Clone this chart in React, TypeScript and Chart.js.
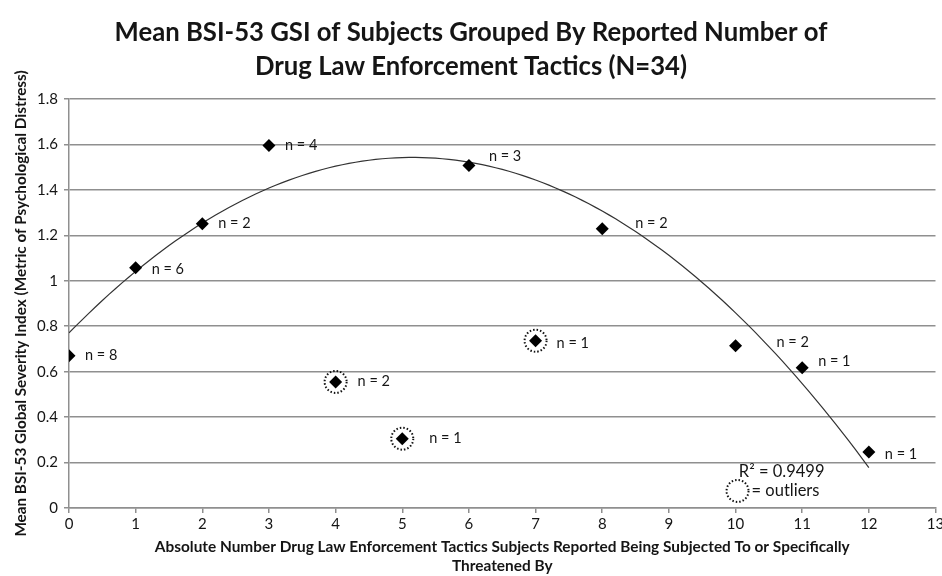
import React, { useEffect, useRef } from "react";
import { Chart, registerables } from "chart.js";

Chart.register(...registerables);

// ---- Data ----
const TITLE_LINES = [
  "Mean BSI-53 GSI of Subjects Grouped By Reported Number of",
  "Drug Law Enforcement Tactics (N=34)",
];
const X_TITLE_LINES = [
  "Absolute Number Drug Law Enforcement Tactics Subjects Reported Being Subjected To or Specifically",
  "Threatened By",
];
const Y_TITLE = "Mean BSI-53 Global Severity Index (Metric of Psychological Distress)";

const TACTICS = [0, 1, 2, 3, 4, 5, 6, 7, 8, 10, 11, 12];
const MEAN_GSI = [0.67, 1.057, 1.251, 1.595, 0.555, 0.305, 1.507, 0.736, 1.229, 0.714, 0.617, 0.247];
const N_COUNTS = [8, 6, 2, 4, 2, 1, 3, 1, 2, 2, 1, 1];
const IS_OUTLIER = [false, false, false, false, true, true, false, true, false, false, false, false];

const X_MIN = 0;
const X_MAX = 13;
const Y_MIN = 0;
const Y_MAX = 1.8;
const Y_STEP = 0.2;

const R2_LABEL = "R² = 0.9499";
const OUTLIER_LABEL = "= outliers";
// legend anchor positions in data units
const R2_POS = [10.05, 0.16];
const OUTLIER_LEGEND_POS = [10.03, 0.075];

// pixel offsets of the "n = k" labels from their points (layout only)
const LABEL_OFFSETS: [number, number][] = [
  [16, 0], [16, 2], [16, 0], [16, 0], [22, -1], [27, 0],
  [20, -9], [21, 3], [33, -5], [41, -3], [16, -6], [16, 2],
];

// ---- Quadratic least-squares trendline (fitted on non-outlier points) ----
function fitQuadratic(xs: number[], ys: number[]) {
  const S = [0, 0, 0, 0, 0];
  const T = [0, 0, 0];
  for (let i = 0; i < xs.length; i++) {
    let p = 1;
    for (let k = 0; k < 5; k++) {
      S[k] += p;
      if (k < 3) T[k] += p * ys[i];
      p *= xs[i];
    }
  }
  const M = [
    [S[0], S[1], S[2], T[0]],
    [S[1], S[2], S[3], T[1]],
    [S[2], S[3], S[4], T[2]],
  ];
  for (let i = 0; i < 3; i++) {
    for (let j = i + 1; j < 3; j++) {
      const f = M[j][i] / M[i][i];
      for (let k = i; k < 4; k++) M[j][k] -= f * M[i][k];
    }
  }
  const sol = [0, 0, 0];
  for (let i = 2; i >= 0; i--) {
    let s = M[i][3];
    for (let k = i + 1; k < 3; k++) s -= M[i][k] * sol[k];
    sol[i] = s / M[i][i];
  }
  return sol; // [c, b, a]
}

const FONT = "Lato, 'Open Sans', sans-serif";
const TEXT = "#151515";
const GRID = "#8f8f8f";

export default function App() {
  const canvasRef = useRef<HTMLCanvasElement | null>(null);

  useEffect(() => {
    const canvas = canvasRef.current;
    if (!canvas) return;

    const fx: number[] = [];
    const fy: number[] = [];
    TACTICS.forEach((x, i) => {
      if (!IS_OUTLIER[i]) {
        fx.push(x);
        fy.push(MEAN_GSI[i]);
      }
    });
    const [c, b, a] = fitQuadratic(fx, fy);
    const fitStart = Math.min(...fx);
    const fitEnd = Math.max(...fx);
    const trend: { x: number; y: number }[] = [];
    const steps = 120;
    for (let i = 0; i <= steps; i++) {
      const x = fitStart + ((fitEnd - fitStart) * i) / steps;
      trend.push({ x, y: c + b * x + a * x * x });
    }

    const points = TACTICS.map((x, i) => ({ x, y: MEAN_GSI[i] }));

    const annotations = {
      id: "annotations",
      afterDatasetsDraw(chart: any) {
        const ctx = chart.ctx as CanvasRenderingContext2D;
        const xs = chart.scales.x;
        const ys = chart.scales.y;
        ctx.save();
        ctx.strokeStyle = "#111";
        ctx.lineWidth = 2;
        ctx.setLineDash([1.5, 2]);
        TACTICS.forEach((x, i) => {
          if (!IS_OUTLIER[i]) return;
          ctx.beginPath();
          ctx.arc(xs.getPixelForValue(x), ys.getPixelForValue(MEAN_GSI[i]), 11, 0, Math.PI * 2);
          ctx.stroke();
        });
        const lcx = xs.getPixelForValue(OUTLIER_LEGEND_POS[0]);
        const lcy = ys.getPixelForValue(OUTLIER_LEGEND_POS[1]);
        ctx.beginPath();
        ctx.arc(lcx, lcy, 11, 0, Math.PI * 2);
        ctx.stroke();
        ctx.setLineDash([]);

        ctx.fillStyle = TEXT;
        ctx.font = `14.5px ${FONT}`;
        ctx.textAlign = "left";
        ctx.textBaseline = "middle";
        TACTICS.forEach((x, i) => {
          const px = xs.getPixelForValue(x) + LABEL_OFFSETS[i][0];
          const py = ys.getPixelForValue(MEAN_GSI[i]) + LABEL_OFFSETS[i][1];
          ctx.fillText(`n = ${N_COUNTS[i]}`, px, py);
        });

        ctx.font = `16.5px ${FONT}`;
        ctx.fillText(R2_LABEL, xs.getPixelForValue(R2_POS[0]), ys.getPixelForValue(R2_POS[1]));
        ctx.fillText(OUTLIER_LABEL, lcx + 14, lcy);
        ctx.restore();
      },
    };

    const chart = new Chart(canvas, {
      type: "scatter",
      data: {
        datasets: [
          {
            type: "line",
            data: trend,
            borderColor: "#333",
            borderWidth: 1.2,
            pointRadius: 0,
            tension: 0,
            order: 2,
          } as any,
          {
            type: "scatter",
            data: points,
            pointStyle: "rectRot",
            pointRadius: 6.5,
            backgroundColor: "#000",
            borderColor: "#000",
            borderWidth: 0,
            order: 1,
          },
        ],
      },
      options: {
        animation: false,
        responsive: false,
        maintainAspectRatio: false,
        layout: { padding: { left: 0, right: 0, top: 0, bottom: 0 } },
        plugins: {
          legend: { display: false },
          tooltip: { enabled: false },
          title: {
            display: true,
            text: TITLE_LINES,
            color: TEXT,
            font: { family: FONT, size: 25.7, weight: "bold", lineHeight: 34 / 25.7 },
            padding: { top: 16, bottom: 15 },
          },
        },
        scales: {
          x: {
            type: "linear",
            min: X_MIN,
            max: X_MAX,
            afterFit: (s: any) => {
              s.height = 68;
              s.paddingRight = 5;
            },
            ticks: {
              stepSize: 1,
              color: TEXT,
              font: { family: FONT, size: 15 },
              padding: 2,
            },
            grid: {
              drawOnChartArea: false,
              drawTicks: true,
              tickLength: 5,
              color: GRID,
              lineWidth: 1.5,
            },
            border: { display: true, color: GRID, width: 1.5 },
            title: {
              display: true,
              text: X_TITLE_LINES,
              color: TEXT,
              font: { family: FONT, size: 15.4, weight: "bold", lineHeight: 19 / 15.4 },
              padding: { top: 0, bottom: 0 },
            },
          },
          y: {
            type: "linear",
            min: Y_MIN,
            max: Y_MAX,
            afterFit: (s: any) => {
              s.width = 69;
            },
            ticks: {
              stepSize: Y_STEP,
              color: TEXT,
              font: { family: FONT, size: 15 },
              padding: 6,
              callback: (v: any) => String(Math.round(Number(v) * 10) / 10),
            },
            grid: {
              drawTicks: true,
              tickLength: 5,
              color: GRID,
              lineWidth: 1.5,
            },
            border: { display: true, color: GRID, width: 1.5 },
            title: {
              display: true,
              text: Y_TITLE,
              color: TEXT,
              font: { family: FONT, size: 15.3, weight: "bold", lineHeight: 1.2 },
              padding: { top: 12, bottom: 0 },
            },
          },
        },
      },
      plugins: [annotations],
    });

    return () => chart.destroy();
  }, []);

  return (
    <div style={{ position: "fixed", left: 0, top: 0, width: 942, height: 576, background: "#fff" }}>
      <canvas ref={canvasRef} width={942} height={576} style={{ width: 942, height: 576 }} />
    </div>
  );
}
